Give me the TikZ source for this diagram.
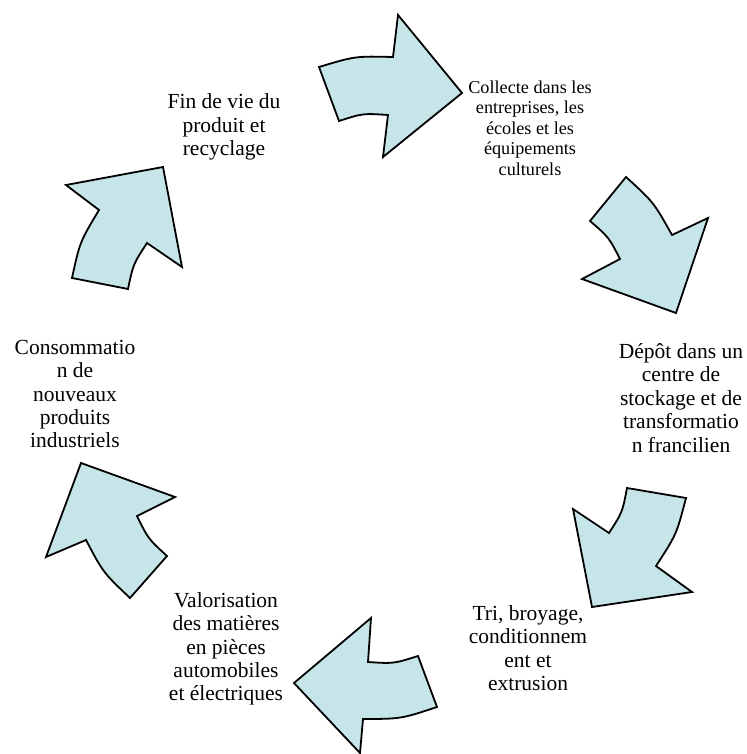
\documentclass[tikz,border=0pt]{standalone}
\usepackage{fontspec}
\setmainfont{Liberation Serif}
\definecolor{bleuFleche}{RGB}{198,229,233}

\begin{document}
\begin{tikzpicture}[x=1pt, y=-1pt,
    fleche/.style={draw=black, fill=bleuFleche, line width=1.8pt},
    etape/.style={align=center, inner sep=0pt, font=\fontsize{21.5}{23.4}\selectfont},
    etapepetite/.style={align=center, inner sep=0pt, font=\fontsize{18.2}{20.5}\selectfont}]

    \useasboundingbox (0,0) rectangle (746,754);

    % Etapes du cycle
    \node[etape] (finvie) at (224,127) {Fin de vie du\\produit et\\recyclage};
    \node[etapepetite] (collecte) at (530,128) {Collecte dans les\\entreprises, les\\écoles et les\\équipements\\culturels};
    \node[etape] (depot) at (681,398) {Dépôt dans un\\centre de\\stockage et de\\transformatio\\n francilien};
    \node[etape] (tri) at (528,648) {Tri, broyage,\\conditionnem\\ent et\\extrusion};
    \node[etape] (valorisation) at (226,649) {Valorisation\\des matières\\en pièces\\automobiles\\et électriques};
    \node[etape] (conso) at (75,394) {Consommatio\\n de\\nouveaux\\produits\\industriels};

    % Fleches courbes entre les etapes
    % haut : fin de vie -> collecte
    \draw[fleche] (319,67) .. controls (355.2,56.1) .. (393,57) -- (398,15) -- (462,93)
        -- (383,157) -- (388,115) .. controls (362.9,113.3) .. (339,121) -- cycle;
    % haut droite : collecte -> depot
    \draw[fleche] (626,177) .. controls (653.7,202.3) .. (672,235) -- (708,218) -- (676,313)
        -- (582,279) -- (620,259) .. controls (608.7,237.1) .. (590,221) -- cycle;
    % bas droite : depot -> tri
    \draw[fleche] (627,488) -- (686,498) .. controls (676.5,534.4) .. (656,566) -- (692,592)
        -- (592,607) -- (573,509) -- (609,533) .. controls (622.4,512.2) .. cycle;
    % bas : tri -> valorisation
    \draw[fleche] (294,683) -- (371,618) -- (368,662) .. controls (393.6,663.7) .. (418,656)
        -- (437,707) .. controls (401,718.9) .. (363,719) -- (360,753) -- cycle;
    % bas gauche : valorisation -> consommation
    \draw[fleche] (81,463) -- (175,497) -- (137,516) .. controls (148.2,538.8) .. (167,556)
        -- (130,598) .. controls (103.2,572.6) .. (86,540) -- (46,557) -- cycle;
    % haut gauche : consommation -> fin de vie
    \draw[fleche] (66,185) -- (163,167) -- (182,267) -- (147,243) .. controls (133.2,264.2) .. (128,289)
        -- (72,278) .. controls (79.9,241.8) .. (99,210) -- cycle;

\end{tikzpicture}
\end{document}
